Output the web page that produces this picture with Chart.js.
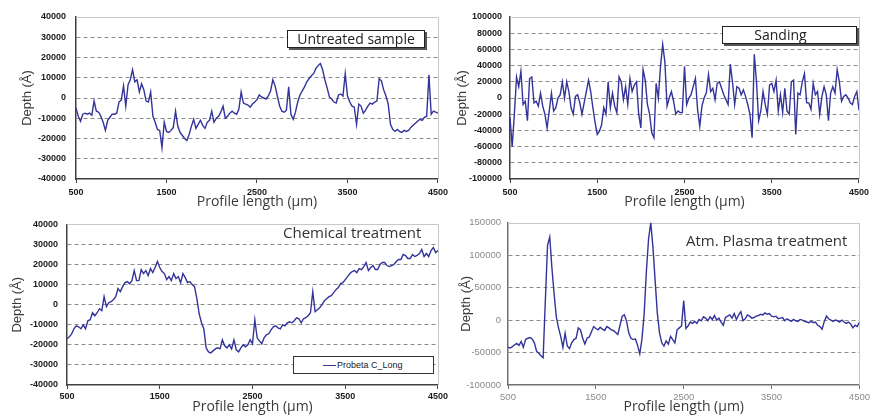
<!DOCTYPE html>
<html><head><meta charset="utf-8">
<script src="https://cdn.jsdelivr.net/npm/chart.js@4/dist/chart.umd.min.js"></script>
<style>
body{margin:0;background:#fff;width:873px;height:417px;overflow:hidden;position:relative;font-family:'Open Sans',sans-serif}
canvas{position:absolute}
.box{position:absolute;border:1px solid #222;box-shadow:2px 2px 0 #555;background:#fff;font-size:14px;line-height:16px;color:#222;text-align:center;white-space:nowrap}
.note{position:absolute;font-size:15px;line-height:16px;color:#333;white-space:nowrap}
.leg{position:absolute;border:1px solid #333;background:#fff}
.leg .ln{position:absolute;left:29px;top:8px;width:13px;height:0;border-top:1.5px solid #35359a}
.leg .tx{position:absolute;left:43px;top:2px;font-family:'Liberation Sans',sans-serif;font-size:9px;line-height:12px;color:#222}
</style></head><body>
<canvas id="c1" width="452" height="210" style="left:0;top:0"></canvas>
<canvas id="c2" width="423" height="210" style="left:450px;top:0"></canvas>
<canvas id="c3" width="450" height="207" style="left:0;top:210px"></canvas>
<canvas id="c4" width="423" height="207" style="left:450px;top:210px"></canvas>
<div class="box" style="left:287px;top:30px;width:136px;height:16px">Untreated sample</div>
<div class="box" style="left:722px;top:26px;width:115px;height:16px;padding-right:18px">Sanding</div>
<div class="note" style="left:283px;top:224px">Chemical treatment</div>
<div class="note" style="left:686px;top:232px">Atm. Plasma treatment</div>
<div class="leg" style="left:293px;top:356px;width:139px;height:16px"><div class="ln"></div><div class="tx">Probeta C_Long</div></div>
<script>
// Profile positions (µm)
const xs = [500,525,550,575,600,625,650,675,700,725,750,775,800,825,850,875,900,925,950,975,
1000,1025,1050,1075,1100,1125,1150,1175,1200,1225,1250,1275,1300,1325,1350,1375,1400,1425,1450,1475,
1500,1525,1550,1575,1600,1625,1650,1675,1700,1725,1750,1775,1800,1825,1850,1875,1900,1925,1950,1975,
2000,2025,2050,2075,2100,2125,2150,2175,2200,2225,2250,2275,2300,2325,2350,2375,2400,2425,2450,2475,
2500,2525,2550,2575,2600,2625,2650,2675,2700,2725,2750,2775,2800,2825,2850,2875,2900,2925,2950,2975,
3000,3025,3050,3075,3100,3125,3150,3175,3200,3225,3250,3275,3300,3325,3350,3375,3400,3425,3450,3475,
3500,3525,3550,3575,3600,3625,3650,3675,3700,3725,3750,3775,3800,3825,3850,3875,3900,3925,3950,3975,
4000,4025,4050,4075,4100,4125,4150,4175,4200,4225,4250,4275,4300,4325,4350,4375,4400,4425,4450,4475,
4500];

// Depth (Å)
const untreated = [-5000,-9000,-11500,-8000,-7500,-8000,-7500,-8500,-1500,-6500,-7000,-9000,-12000,-16000,-11000,-9500,-8000,-8000,-7500,-2000,
-1000,6000,-4000,6500,9000,14000,8000,9000,3000,7000,4000,-1500,-2000,3000,-9000,-12000,-15500,-16000,-24500,-12000,
-16500,-17000,-16000,-14500,-6500,-14000,-17000,-18500,-20000,-21000,-18000,-14000,-10500,-15000,-13000,-11000,-13500,-15000,-12000,-11000,
-6500,-12000,-10000,-9000,-7000,-4000,-10000,-9000,-7500,-6500,-7500,-8000,-5500,3000,-2500,-3000,-3500,-4500,-3000,-2000,
-800,1500,500,0,-500,1000,3500,9000,6000,1000,-4000,-6500,-7000,-6000,5500,-8000,-10500,-7000,-2000,1500,
3500,5500,8000,9500,11000,12000,14500,16000,17000,14000,9000,5000,500,-500,-2000,-2500,1500,2000,1000,12000,
1000,-2000,-4000,-4500,-13000,-3000,-4000,-7500,-6000,-4000,-2500,-3000,-2000,-1500,9500,8500,4000,1000,-3000,-13000,
-15500,-16500,-15500,-16500,-17000,-16000,-16500,-16000,-14500,-13500,-12500,-11500,-10500,-11000,-9500,-9000,11500,-8000,-6500,-7000,
-7500];

const sanding = [-24000,-60000,-20000,26000,14000,33000,-8000,-4000,-28000,24000,26000,-6000,-4000,-10000,6000,-10000,-20000,-37000,-16000,6000,
-16000,-12000,0,4000,20000,0,20000,8000,-12000,-20000,2000,4000,-6000,-20000,-6000,8000,22000,8000,-12000,-30000,
-45000,-41000,-33000,-12000,-20000,20000,-12000,6000,-10000,-18000,26000,20000,-2000,14000,-8000,24000,8000,16000,20000,-20000,
-37000,35000,22000,-8000,-20000,-43000,-49000,18000,0,39000,66000,45000,-10000,0,8000,-4000,-20000,-16000,-18000,-18000,
39000,-8000,0,4000,14000,24000,-14000,-35000,-10000,0,6000,29000,8000,12000,-2000,18000,20000,12000,4000,-2000,
-8000,42000,20000,-8000,14000,12000,4000,10000,2000,-8000,-20000,-49000,54000,20000,-28000,-16000,8000,-8000,-20000,16000,
18000,8000,22000,-16000,4000,-18000,12000,-16000,-20000,20000,22000,-45000,6000,4000,20000,30000,-6000,-6000,-14000,18000,
4000,8000,-20000,2000,14000,4000,-28000,6000,14000,6000,35000,20000,-4000,2000,4000,0,-6000,-8000,2000,8000,
-15000];

const chemical = [-17000,-16000,-14500,-12000,-10500,-11000,-12000,-10000,-12000,-8000,-7500,-4000,-5500,-4000,-2000,-3000,4000,-1000,1000,1500,
2500,4000,8000,6500,9000,11000,11500,10500,12000,17000,12000,12000,17500,15500,17000,14500,18000,16000,18500,21500,
18500,16500,15500,12500,14000,12000,15500,13000,14000,11000,15500,13500,11000,11500,10000,9000,3000,-4500,-9000,-12000,
-21500,-23500,-24000,-23000,-22000,-21500,-22000,-17500,-20500,-21500,-20000,-22000,-17500,-22500,-23500,-21500,-20000,-21000,-20000,-17500,
-19500,-7500,-16500,-18000,-19500,-16500,-15000,-14500,-12500,-11000,-10500,-11500,-12000,-10000,-10500,-9000,-8500,-9000,-8000,-6500,
-7000,-9000,-7000,-6500,-5500,-4000,6500,-3500,-2500,-1500,0,2000,3000,4000,4500,6000,7500,8500,10500,11000,
12500,14000,15500,16500,17000,16000,18000,17500,19000,21000,17000,18500,19500,17500,17500,20000,21000,21000,19500,19000,
19500,20000,21500,22500,22500,25000,24500,23000,23000,25000,24000,24500,25500,27500,24000,25500,24000,27000,28500,26000,
27000];

const plasma = [-42000,-43000,-41000,-38000,-36000,-39000,-33000,-42000,-30000,-28000,-27000,-29000,-35000,-48000,-51000,-55000,-58000,30000,115000,128000,
80000,40000,5000,-12000,-25000,-42000,-20000,-40000,-44000,-35000,-30000,-28000,-12000,-15000,-28000,-37000,-28000,-26000,-18000,-10000,
-13000,-15000,-11000,-14000,-16000,-10000,-12000,-15000,-16000,-19000,-22000,-8000,6000,8000,-2000,-20000,-28000,-30000,-29000,-39000,
-52000,-29000,10000,75000,125000,150000,112000,60000,10000,-20000,-35000,-40000,-32000,-37000,-25000,-30000,-35000,-15000,-12000,-9000,
30000,-13000,-9000,-3000,-5000,-2000,-5000,1000,-1000,5000,3000,-1000,5000,1000,7000,0,3000,-3000,-8000,4000,
6000,8000,3000,10000,1000,8000,13000,-1000,2000,8000,6000,3000,4000,6000,7000,9000,8000,11000,9000,10000,
6000,5000,6000,2000,3000,4000,-1000,2000,0,-2000,1000,-1000,-2000,1000,0,-2000,-3000,-4000,-2000,-4000,
-3000,-8000,-10000,-14000,-2000,6000,2000,0,-2000,0,-1000,-3000,0,-3000,-5000,-3000,-6000,-12000,-8000,-10000,
-3000];

const LINE = '#33339a';
const framePlugin = {
  id: 'frame',
  beforeDatasetsDraw(chart) {
    const {ctx, chartArea: a} = chart;
    ctx.save();
    ctx.strokeStyle = '#c8c8c8';
    ctx.lineWidth = 1;
    ctx.beginPath();
    ctx.moveTo(a.left, Math.round(a.top) + 0.5);
    ctx.lineTo(Math.round(a.right) + 0.5, Math.round(a.top) + 0.5);
    ctx.lineTo(Math.round(a.right) + 0.5, a.bottom);
    ctx.stroke();
    ctx.restore();
  }
};

function makeChart(id, label, vals, c) {
  const tickFont = c.gray ? {family:'Liberation Sans', size:9.5} : {family:'Liberation Sans', size:9, weight:'bold'};
  const tickColor = c.gray ? '#8a8a8a' : '#1a1a1a';
  const axisColor = c.gray ? '#707070' : '#404040';
  new Chart(document.getElementById(id), {
    type: 'line',
    data: {datasets: [{label: label, data: xs.map((x, i) => ({x: x, y: vals[i]})), borderColor: LINE, borderWidth: 1.4, pointRadius: 0, tension: 0, fill: false}]},
    options: {
      responsive: false, animation: false, events: [],
      layout: {autoPadding: false, padding: {left: 0, right: c.padR, top: c.padT, bottom: 0}},
      plugins: {legend: {display: false}, tooltip: {enabled: false}},
      scales: {
        x: {
          type: 'linear', min: 500, max: 4500,
          ticks: {stepSize: 1000, font: tickFont, color: tickColor, padding: c.xTickPad, maxRotation: 0, autoSkip: false, callback: v => String(v)},
          grid: {drawOnChartArea: false, drawTicks: true, tickLength: 4, color: axisColor},
          border: {color: axisColor, width: 1.5},
          title: {display: true, text: 'Profile length (µm)', font: {family: 'Open Sans', size: 14}, color: '#3a3a3a', padding: {top: 0, bottom: c.xTitlePadB}},
          afterFit: s => { s.height = c.xH; }
        },
        y: {
          min: c.min, max: c.max,
          ticks: {stepSize: c.step, font: tickFont, color: tickColor, padding: c.yTickPad, callback: v => String(v)},
          grid: {drawTicks: false, lineWidth: 1, color: ctx => (ctx.tick && ctx.tick.value > c.min && ctx.tick.value < c.max) ? '#8c8c8c' : 'rgba(0,0,0,0)'},
          border: {color: axisColor, width: 1.5, dash: [4, 3]},
          title: {display: true, text: 'Depth (Å)', font: {family: 'Liberation Sans', size: 13}, color: '#3a3a3a', padding: {top: c.yTitlePadT, bottom: 0}},
          afterFit: s => { s.width = c.yW; }
        }
      }
    },
    plugins: [framePlugin]
  });
}

makeChart('c1', 'Untreated sample', untreated, {min: -40000, max: 40000, step: 10000, padT: 17, padR: 11, yW: 76, xH: 31, xTickPad: 4, xTitlePadB: 0, yTickPad: 10, yTitlePadT: 20});
makeChart('c2', 'Sanding', sanding, {min: -100000, max: 100000, step: 20000, padT: 17, padR: 5, yW: 60, xH: 31, xTickPad: 4, xTitlePadB: 0, yTickPad: 8, yTitlePadT: 5});
makeChart('c3', 'Probeta C_Long', chemical, {min: -40000, max: 40000, step: 10000, padT: 11, padR: 9, yW: 67, xH: 32, xTickPad: 2, xTitlePadB: 2, yTickPad: 9, yTitlePadT: 10});
makeChart('c4', 'Atm. Plasma treatment', plasma, {min: -100000, max: 150000, step: 50000, padT: 10, padR: 8, yW: 58, xH: 32, xTickPad: 3, xTitlePadB: 2, yTickPad: 7, yTitlePadT: 9, gray: true});
</script>
</body></html>
